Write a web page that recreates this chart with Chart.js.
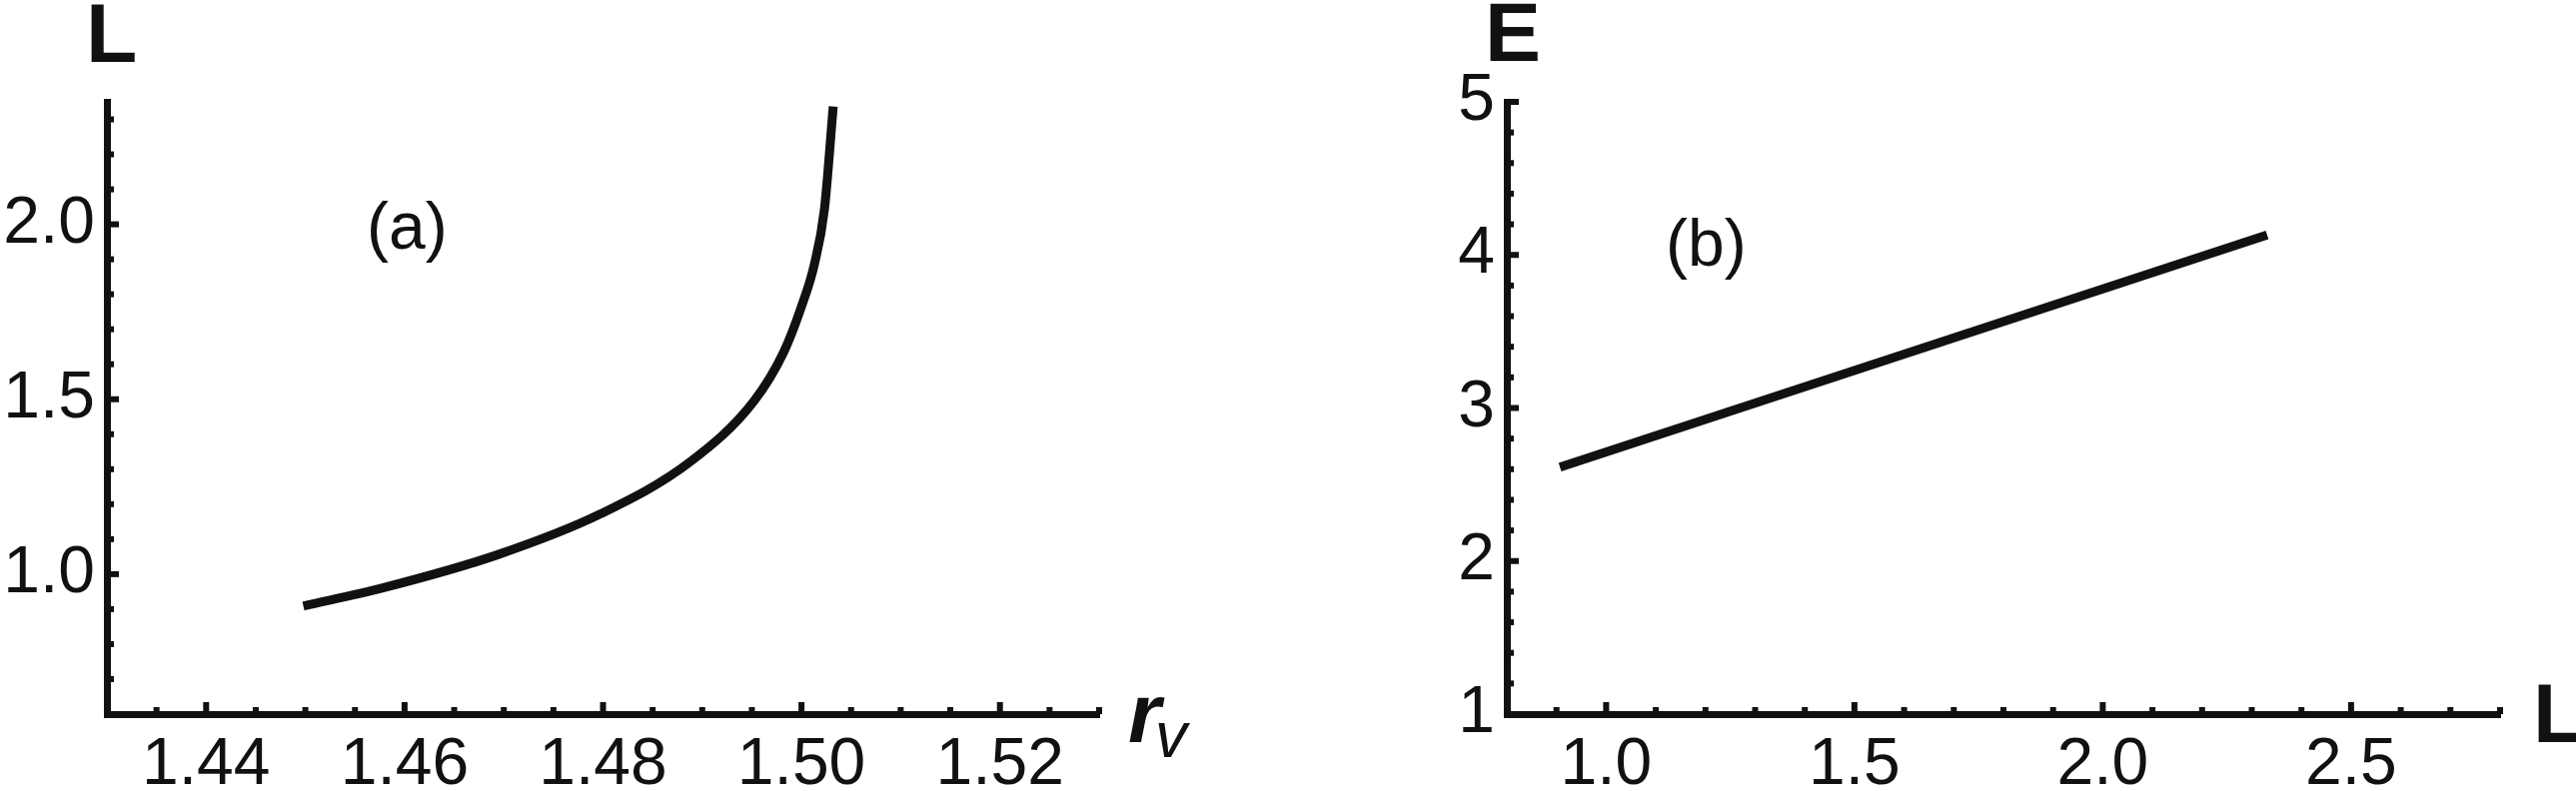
<!DOCTYPE html>
<html><head><meta charset="utf-8">
<script src="https://cdn.jsdelivr.net/npm/chart.js@4/dist/chart.umd.min.js"></script>
<style>
html,body{margin:0;padding:0;background:#fff;width:2578px;height:792px;overflow:hidden}
canvas{position:absolute;top:0}
#ca{left:0}
#cb{left:1290px}
</style></head><body>
<canvas id="ca" width="1290" height="792"></canvas>
<canvas id="cb" width="1288" height="792"></canvas>
<script>
// ---- panel (a): L versus r_v ----
const rvValues = [1.4498, 1.4579, 1.4694, 1.4798, 1.4888, 1.4952, 1.4982, 1.4999, 1.5013, 1.5023, 1.5032];
const lValuesA = [0.9086, 0.9614, 1.0557, 1.1729, 1.3214, 1.4943, 1.6343, 1.7571, 1.8857, 2.040, 2.337];
const xTicksA = [1.44, 1.46, 1.48, 1.50, 1.52];
const yTicksA = [1.0, 1.5, 2.0];
// ---- panel (b): E versus L ----
const lValuesB = [0.907, 2.331];
const eValuesB = [2.614, 4.13];
const xTicksB = [1.0, 1.5, 2.0, 2.5];
const yTicksB = [1, 2, 3, 4, 5];

const INK = '#101211';
const FONT = "'Liberation Sans', Arial, sans-serif";

const tickPlugin = {
  id: 'inTicks',
  afterDraw(chart, args, o) {
    const {ctx, chartArea: a, scales: {x, y}} = chart;
    ctx.save();
    ctx.strokeStyle = INK;
    ctx.lineWidth = 6;
    ctx.lineCap = 'butt';
    const isMajor = (v, arr) => arr.some(m => Math.abs(m - v) < 1e-7);
    const each = (scale, step, majors, fn) => {
      const k0 = Math.ceil(scale.min / step - 1e-6);
      for (let k = k0; k * step <= scale.max + 1e-9; k++) {
        const v = k * step;
        fn(scale.getPixelForValue(v), isMajor(v, majors) ? 12 : 7);
      }
    };
    each(x, o.xStep, o.xMajor, (p, len) => {
      ctx.beginPath(); ctx.moveTo(p, a.bottom); ctx.lineTo(p, a.bottom - len); ctx.stroke();
    });
    each(y, o.yStep, o.yMajor, (p, len) => {
      ctx.beginPath(); ctx.moveTo(a.left, p); ctx.lineTo(a.left + len, p); ctx.stroke();
    });
    ctx.restore();
  }
};

const textPlugin = {
  id: 'panelText',
  afterDraw(chart, args, o) {
    const {ctx, chartArea: a} = chart;
    ctx.save();
    ctx.fillStyle = INK;
    ctx.textAlign = 'left';
    ctx.textBaseline = 'alphabetic';
    for (const t of o.items) {
      ctx.font = t.font;
      const bx = t.ref === 'right' ? a.right : a.left;
      const by = t.vref === 'bottom' ? a.bottom : a.top;
      ctx.fillText(t.text, bx + t.dx, by + t.dy);
    }
    ctx.restore();
  }
};

function axis(min, max, ticksArr, dec, fitFn) {
  return {
    type: 'linear', min, max,
    afterBuildTicks: s => { s.ticks = ticksArr.map(v => ({value: v})); },
    afterFit: fitFn,
    grid: {display: true, drawOnChartArea: false, drawTicks: false},
    border: {display: true, width: 7, color: INK},
    ticks: {
      color: INK, font: {family: FONT, size: 66}, padding: 12,
      maxRotation: 0, autoSkip: false,
      callback: v => Number(v).toFixed(dec)
    }
  };
}

function makeChart(el, c) {
  return new Chart(el, {
    type: 'scatter',
    data: {datasets: [{
      data: c.xs.map((x, i) => ({x, y: c.ys[i]})),
      showLine: true, borderColor: INK, borderWidth: 9, pointRadius: 0,
      fill: false, tension: 0, cubicInterpolationMode: c.mono ? 'monotone' : 'default',
      borderCapStyle: 'butt'
    }]},
    options: {
      responsive: false, animation: false, devicePixelRatio: 1,
      layout: {padding: c.padding},
      events: [],
      plugins: {legend: {display: false}, tooltip: {enabled: false}, inTicks: c.tickOpts, panelText: {items: c.texts}},
      scales: {
        x: axis(c.xMin, c.xMax, c.xTicks, c.xDec, s => { s.height = 77; }),
        y: axis(c.yMin, c.yMax, c.yTicks, c.yDec, s => { s.width = c.yWidth; })
      }
    },
    plugins: [tickPlugin, textPlugin]
  });
}

makeChart(document.getElementById('ca'), {
  xs: rvValues, ys: lValuesA, mono: true,
  xMin: 1.43, xMax: 1.53, yMin: 0.6, yMax: 2.35,
  xTicks: xTicksA, yTicks: yTicksA, xDec: 2, yDec: 1,
  yWidth: 107,
  padding: {top: 102, right: 190, bottom: 0, left: 0},
  tickOpts: {xStep: 0.005, yStep: 0.1, xMajor: xTicksA, yMajor: yTicksA},
  texts: [
    {text: 'L', font: `bold 84px ${FONT}`, ref: 'left', vref: 'top', dx: -21, dy: -40},
    {text: '(a)', font: `66px ${FONT}`, ref: 'left', vref: 'top', dx: 260, dy: 147},
    {text: 'r', font: `italic bold 84px ${FONT}`, ref: 'right', vref: 'bottom', dx: 29, dy: 28},
    {text: 'v', font: `italic 64px ${FONT}`, ref: 'right', vref: 'bottom', dx: 56, dy: 43}
  ]
});

makeChart(document.getElementById('cb'), {
  xs: lValuesB, ys: eValuesB, mono: false,
  xMin: 0.8, xMax: 2.8, yMin: 1, yMax: 5,
  xTicks: xTicksB, yTicks: yTicksB, xDec: 1, yDec: 0,
  yWidth: 218,
  padding: {top: 102, right: 76, bottom: 0, left: 0},
  tickOpts: {xStep: 0.1, yStep: 0.2, xMajor: xTicksB, yMajor: yTicksB},
  texts: [
    {text: 'E', font: `bold 84px ${FONT}`, ref: 'left', vref: 'top', dx: -22, dy: -41},
    {text: '(b)', font: `66px ${FONT}`, ref: 'left', vref: 'top', dx: 159, dy: 164},
    {text: 'L', font: `bold 84px ${FONT}`, ref: 'right', vref: 'bottom', dx: 33, dy: 28}
  ]
});
</script>
</body></html>
